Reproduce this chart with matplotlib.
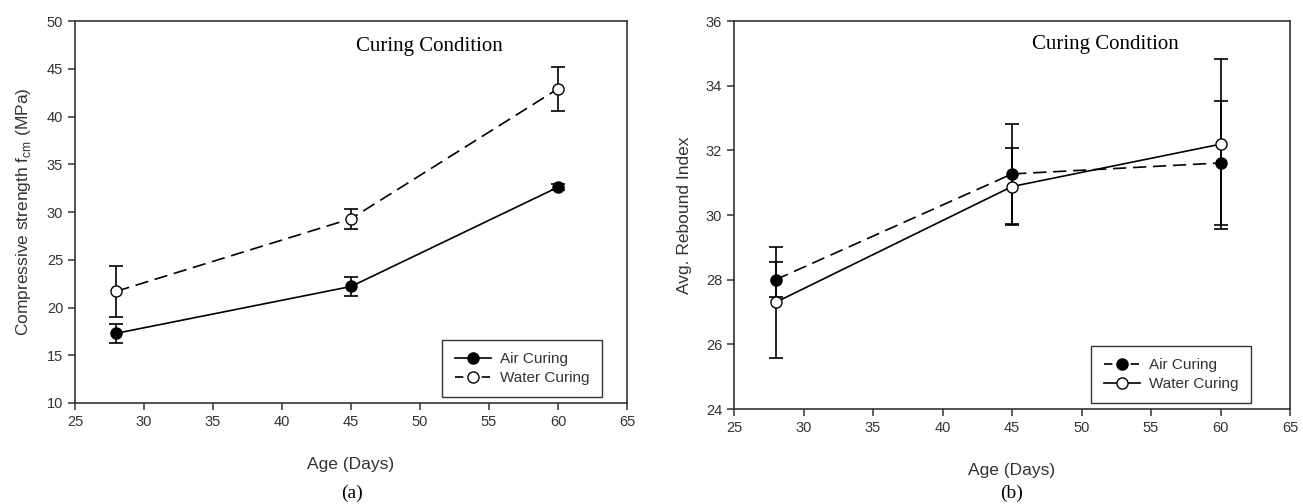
import matplotlib
matplotlib.use("Agg")
import matplotlib.pyplot as plt
from matplotlib.lines import Line2D
import numpy as np

# ---- data ----
age = [28, 45, 60]

# (a) compressive strength (MPa)
air_fc = [17.3, 22.2, 32.6]
air_fc_err = [1.0, 1.0, 0.3]
water_fc = [21.7, 29.3, 42.9]
water_fc_err = [2.65, 1.05, 2.3]

# (b) rebound index
air_ri = [28.0, 31.27, 31.61]
air_ri_err = [0.55, 1.55, 1.92]
water_ri = [27.3, 30.88, 32.19]
water_ri_err = [1.72, 1.2, 2.63]

xticks = [25, 30, 35, 40, 45, 50, 55, 60, 65]
yticks_a = [10, 15, 20, 25, 30, 35, 40, 45, 50]
yticks_b = [24, 26, 28, 30, 32, 34, 36]
series_labels = ["Air Curing", "Water Curing"]

plt.rcParams["font.family"] = ["Liberation Sans", "DejaVu Sans"]

fig = plt.figure(figsize=(13.03, 5.04), dpi=100)
ax1 = fig.add_axes([75/1303, (504-403)/504, (627-75)/1303, (403-21)/504])
ax2 = fig.add_axes([734/1303, (504-409)/504, (1290-734)/1303, (409-21)/504])

tick_color = "#333333"
spine_color = "#333333"

def style(ax):
    for s in ax.spines.values():
        s.set_color(spine_color)
        s.set_linewidth(1.2)
    ax.tick_params(direction="out", length=5, width=1.1, colors=spine_color,
                   labelcolor=tick_color, labelsize=10.5, top=False, right=False)

ms = 8
lw = 1.2
dash = (8, 4)
leg_dash = (5, 3)
kw = dict(capsize=5, elinewidth=1.2, capthick=1.2, ecolor="black")

def handles(solid_filled):
    h_filled = Line2D([], [], color="black", lw=lw, marker="o", ms=ms,
                      markerfacecolor="black", markeredgecolor="black",
                      linestyle="-" if solid_filled else "--")
    h_open = Line2D([], [], color="black", lw=lw, marker="o", ms=ms,
                    markerfacecolor="white", markeredgecolor="black",
                    linestyle="--" if solid_filled else "-")
    if solid_filled:
        h_open.set_dashes(leg_dash)
    else:
        h_filled.set_dashes(leg_dash)
    return [h_filled, h_open]

def legend(ax, hs, anchor):
    leg = ax.legend(hs, series_labels, loc="lower right", bbox_to_anchor=anchor,
                    fontsize=11, frameon=True, fancybox=False, edgecolor="black",
                    handlelength=2.4, borderpad=0.8, labelspacing=0.3,
                    borderaxespad=0, handletextpad=0.6)
    leg.get_frame().set_linewidth(1.0)
    for t in leg.get_texts():
        t.set_color(tick_color)

# (a)
ax1.errorbar(age, air_fc, yerr=air_fc_err, fmt="-o", color="black",
             markerfacecolor="black", markeredgecolor="black", ms=ms, lw=lw,
             zorder=3, **kw)
ax1.errorbar(age, water_fc, yerr=water_fc_err, fmt="--o", color="black",
             markerfacecolor="white", markeredgecolor="black", ms=ms, lw=lw,
             dashes=dash, zorder=3, **kw)
ax1.set_xlim(25, 65)
ax1.set_ylim(10, 50)
ax1.set_xticks(xticks)
ax1.set_yticks(yticks_a)
style(ax1)
ax1.set_xlabel("Age (Days)", fontsize=12.5, color=tick_color, labelpad=20)
ax1.set_ylabel(r"Compressive strength f$_{\mathregular{cm}}$ (MPa)", fontsize=12.5,
               color=tick_color, labelpad=10)
ax1.text(50.7, 47.3, "Curing Condition", family="Liberation Serif", fontsize=15,
         ha="center", va="center")
legend(ax1, handles(True), (0.955, 0.015))

# (b)
ax2.errorbar(age, air_ri, yerr=air_ri_err, fmt="--o", color="black",
             markerfacecolor="black", markeredgecolor="black", ms=ms, lw=lw,
             dashes=dash, zorder=3, **kw)
ax2.errorbar(age, water_ri, yerr=water_ri_err, fmt="-o", color="black",
             markerfacecolor="white", markeredgecolor="black", ms=ms, lw=lw,
             zorder=3, **kw)
ax2.set_xlim(25, 65)
ax2.set_ylim(24, 36)
ax2.set_xticks(xticks)
ax2.set_yticks(yticks_b)
style(ax2)
ax2.set_xlabel("Age (Days)", fontsize=12.5, color=tick_color, labelpad=20)
ax2.set_ylabel("Avg. Rebound Index", fontsize=12.5, color=tick_color, labelpad=10)
ax2.text(51.7, 35.26, "Curing Condition", family="Liberation Serif", fontsize=15,
         ha="center", va="center")
legend(ax2, handles(False), (0.93, 0.015))

fig.text(352/1303, 1 - 493/504, "(a)", family="Liberation Serif", fontsize=14,
         ha="center", va="center")
fig.text(1012/1303, 1 - 493/504, "(b)", family="Liberation Serif", fontsize=14,
         ha="center", va="center")

fig.savefig("out.png", dpi=100)
